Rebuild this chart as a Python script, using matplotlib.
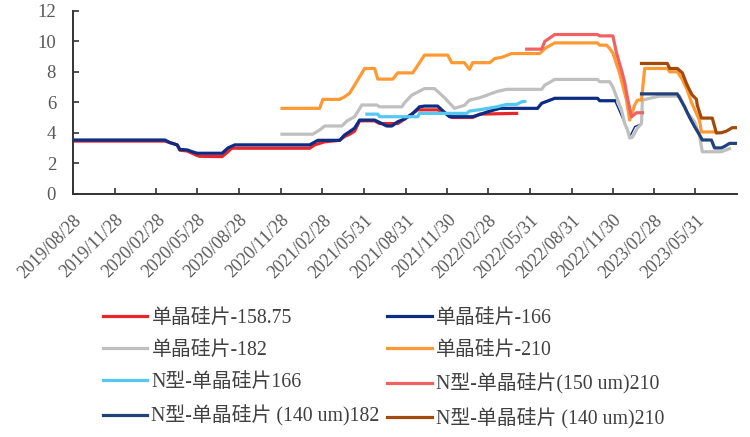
import pandas as pd
import matplotlib
matplotlib.use("Agg")
import matplotlib.pyplot as plt

plt.rcParams['font.family'] = ['Liberation Serif', 'Noto Sans CJK SC', 'DejaVu Sans']

# tick labels on the date axis
tick_labels = ['2019/08/28', '2019/11/28', '2020/02/28', '2020/05/28', '2020/08/28',
               '2020/11/28', '2021/02/28', '2021/05/31', '2021/08/31', '2021/11/30',
               '2022/02/28', '2022/05/31', '2022/08/31', '2022/11/30', '2023/02/28',
               '2023/05/31']

# 单晶硅片-158.75
s15875_dates = ['2019-08-28', '2020-03-18', '2020-03-29', '2020-04-14', '2020-04-20',
                '2020-05-06', '2020-05-17', '2020-05-28', '2020-06-03', '2020-07-22',
                '2020-08-04', '2020-08-12', '2021-01-31', '2021-02-11', '2021-03-05',
                '2021-04-07', '2021-04-18', '2021-04-29', '2021-05-10', '2021-05-21',
                '2021-06-23', '2021-07-04', '2021-08-13', '2021-08-28', '2021-09-26',
                '2021-11-09', '2021-12-01', '2021-12-10', '2022-01-25', '2022-02-10',
                '2022-05-02']
s15875_vals = [3.45, 3.45, 3.35, 3.2, 2.85,
               2.8, 2.65, 2.5, 2.45, 2.43,
               2.75, 2.98, 2.98, 3.2, 3.4,
               3.5, 3.75, 3.9, 4.1, 4.78,
               4.78, 4.6, 4.6, 4.9, 5.5,
               5.5, 5.2, 5.0, 5.0, 5.22,
               5.27]

# 单晶硅片-166
s166_dates = ['2019-08-28', '2020-03-18', '2020-03-29', '2020-04-14', '2020-04-20',
              '2020-05-06', '2020-05-17', '2020-05-28', '2020-07-22', '2020-08-04',
              '2020-08-19', '2021-01-31', '2021-02-18', '2021-04-07', '2021-04-18',
              '2021-04-29', '2021-05-10', '2021-05-21', '2021-06-23', '2021-07-20',
              '2021-07-31', '2021-08-13', '2021-08-28', '2021-09-13', '2021-09-30',
              '2021-10-11', '2021-11-09', '2021-11-18', '2021-12-05', '2022-01-25',
              '2022-02-10', '2022-03-04', '2022-03-26', '2022-06-17', '2022-06-26',
              '2022-07-25', '2022-10-27', '2022-11-01', '2022-12-04', '2022-12-10',
              '2022-12-26', '2023-01-06', '2023-01-17', '2023-02-01']
s166_vals = [3.52, 3.52, 3.35, 3.2, 2.9,
             2.87, 2.75, 2.65, 2.65, 3.0,
             3.2, 3.2, 3.5, 3.5, 3.85,
             4.07, 4.3, 4.83, 4.83, 4.44,
             4.44, 4.72, 4.9, 5.2, 5.7,
             5.75, 5.75, 5.5, 5.05, 5.05,
             5.2, 5.42, 5.6, 5.6, 5.93,
             6.26, 6.26, 6.1, 6.1, 5.7,
             4.6, 3.74, 4.4, 4.6]
# the 166 line turns thin from here on in the source chart
s166_thin_from = '2022-12-04'

# 单晶硅片-182
s182_dates = ['2020-12-01', '2021-02-07', '2021-02-22', '2021-03-05', '2021-04-12',
              '2021-04-23', '2021-05-10', '2021-05-26', '2021-06-28', '2021-07-04',
              '2021-08-22', '2021-08-28', '2021-09-13', '2021-10-11', '2021-11-02',
              '2021-11-24', '2021-12-16', '2022-01-07', '2022-01-18', '2022-02-10',
              '2022-03-19', '2022-04-10', '2022-06-26', '2022-07-03', '2022-07-25',
              '2022-10-27', '2022-11-01', '2022-11-23', '2022-11-30', '2022-12-08',
              '2022-12-19', '2022-12-26', '2023-01-01', '2023-01-06', '2023-01-12',
              '2023-01-23', '2023-02-01', '2023-02-03', '2023-02-25', '2023-03-13',
              '2023-04-26', '2023-05-11', '2023-05-29', '2023-06-09', '2023-06-15',
              '2023-07-27', '2023-08-14']
s182_vals = [3.9, 3.9, 4.18, 4.44, 4.44,
             4.77, 5.05, 5.82, 5.82, 5.7,
             5.7, 5.97, 6.47, 6.9, 6.9,
             6.3, 5.6, 5.8, 6.14, 6.3,
             6.7, 6.85, 6.85, 7.13, 7.5,
             7.5, 7.35, 7.35, 7.0, 6.36,
             5.5, 4.6, 4.2, 3.65, 3.7,
             4.3, 4.6, 6.14, 6.3, 6.4,
             6.4, 5.4, 4.72, 3.8, 2.75,
             2.75, 2.95]

# 单晶硅片-210
s210_dates = ['2020-12-01', '2021-02-22', '2021-03-01', '2021-04-07', '2021-04-18',
              '2021-04-29', '2021-05-10', '2021-06-01', '2021-06-23', '2021-06-30',
              '2021-08-02', '2021-08-13', '2021-09-15', '2021-09-24', '2021-10-11',
              '2021-12-01', '2021-12-10', '2022-01-07', '2022-01-18', '2022-01-25',
              '2022-03-04', '2022-03-15', '2022-03-30', '2022-04-21', '2022-06-22',
              '2022-07-03', '2022-07-25', '2022-10-27', '2022-11-01', '2022-11-16',
              '2022-11-23', '2022-11-30', '2022-12-15', '2022-12-30', '2023-01-06',
              '2023-01-17', '2023-01-23', '2023-02-01', '2023-02-08', '2023-03-30',
              '2023-04-04', '2023-04-21', '2023-05-02', '2023-05-13', '2023-05-22',
              '2023-06-09', '2023-06-13', '2023-07-12']
s210_vals = [5.6, 5.6, 6.19, 6.19, 6.36,
             6.6, 7.13, 8.22, 8.22, 7.52,
             7.52, 7.93, 7.93, 8.33, 9.1,
             9.1, 8.6, 8.6, 8.16, 8.6,
             8.6, 8.88, 8.95, 9.2, 9.2,
             9.53, 9.9, 9.9, 9.75, 9.75,
             9.53, 9.23, 7.9, 6.14, 4.83,
             5.82, 6.14, 6.14, 8.22, 8.22,
             8.0, 8.0, 7.5, 6.8, 6.0,
             4.8, 4.05, 4.05]

# N型-单晶硅片166
n166_dates = ['2021-06-06', '2021-06-30', '2021-07-04', '2021-09-26', '2021-09-30',
              '2022-01-12', '2022-01-18', '2022-02-14', '2022-03-19', '2022-04-10',
              '2022-05-02', '2022-05-13', '2022-05-20']
n166_vals = [5.22, 5.22, 5.05, 5.05, 5.27,
             5.27, 5.42, 5.53, 5.7, 5.86,
             5.86, 6.03, 6.05]

# N型-单晶硅片(150 um)210
n150_210_dates = ['2022-05-24', '2022-06-26', '2022-07-03', '2022-07-25', '2022-10-27',
                  '2022-11-01', '2022-11-30', '2022-12-08', '2022-12-19', '2022-12-26',
                  '2023-01-01', '2023-01-10', '2023-01-21', '2023-02-03']
n150_210_vals = [9.49, 9.49, 10.0, 10.45, 10.45,
                 10.36, 10.36, 9.23, 8.1, 7.3,
                 6.3, 5.05, 5.31, 5.31]

# N型-单晶硅片 (140 um)182
n140_182_dates = ['2023-02-01', '2023-04-21', '2023-05-07', '2023-05-18', '2023-05-29',
                  '2023-06-09', '2023-06-15', '2023-07-05', '2023-07-12', '2023-07-27',
                  '2023-08-03', '2023-08-14', '2023-08-29']
n140_182_vals = [6.55, 6.55, 5.7, 5.0, 4.4,
                 3.85, 3.52, 3.52, 3.0, 3.0,
                 3.1, 3.3, 3.3]

# N型-单晶硅片 (140 um)210
n140_210_dates = ['2023-02-01', '2023-03-30', '2023-04-04', '2023-04-21', '2023-05-02',
                  '2023-05-11', '2023-05-18', '2023-05-24', '2023-06-02', '2023-06-04',
                  '2023-06-13', '2023-07-07', '2023-07-16', '2023-07-27', '2023-08-07',
                  '2023-08-20', '2023-08-29']
n140_210_vals = [8.55, 8.55, 8.22, 8.22, 7.93,
                 7.24, 6.8, 6.47, 6.2, 5.8,
                 4.96, 4.96, 3.98, 4.0, 4.1,
                 4.33, 4.33]

series = [
    ('单晶硅片-158.75', s15875_dates, s15875_vals, '#E8262A'),
    ('单晶硅片-166', s166_dates, s166_vals, '#0C2D83'),
    ('单晶硅片-182', s182_dates, s182_vals, '#BFBFBF'),
    ('单晶硅片-210', s210_dates, s210_vals, '#FF9933'),
    ('N型-单晶硅片166', n166_dates, n166_vals, '#55C8F0'),
    ('N型-单晶硅片(150 um)210', n150_210_dates, n150_210_vals, '#F06262'),
    ('N型-单晶硅片 (140 um)182', n140_182_dates, n140_182_vals, '#22407A'),
    ('N型-单晶硅片 (140 um)210', n140_210_dates, n140_210_vals, '#A24A0C'),
]

fig = plt.figure(figsize=(7.5, 4.37), dpi=100)
ax = fig.add_axes([0.097, 0.557, 0.886, 0.418])

lines = []
for name, d, v, c in series:
    d = list(d)
    v = list(v)
    if name == '单晶硅片-166':
        k = d.index(s166_thin_from)
        ax.plot(pd.to_datetime(d[k:]), v[k:], color=c, lw=1.0)
        d, v = d[:k + 1], v[:k + 1]
    ln, = ax.plot(pd.to_datetime(d), v, color=c, lw=2.3, label=name)
    lines.append(ln)

tick_dates = pd.to_datetime(tick_labels, format='%Y/%m/%d')
ax.set_xticks(tick_dates)
ax.set_xticklabels(tick_labels, rotation=45, ha='right', va='top',
                   rotation_mode='anchor', fontsize=13, color='#595959')
ax.set_xlim(pd.Timestamp('2019-08-28'), pd.Timestamp('2023-08-31'))
ax.set_ylim(0, 12)
ax.set_yticks(range(0, 13, 2))
ax.tick_params(axis='y', labelsize=13.5, labelcolor='#595959', pad=12)
ax.tick_params(direction='in', length=4, width=1.2, color='#333333')
ax.tick_params(axis='x', pad=13)

for side in ['top', 'right']:
    ax.spines[side].set_visible(False)
for side in ['left', 'bottom']:
    ax.spines[side].set_color('#333333')
    ax.spines[side].set_linewidth(1.4)

# legend reads row by row, matplotlib fills columns first
order = [0, 2, 4, 6, 1, 3, 5, 7]
leg = fig.legend([lines[i] for i in order], [series[i][0] for i in order],
                 loc='center', bbox_to_anchor=(0.511, 0.155), ncol=2, frameon=False,
                 fontsize=14.3, handlelength=2.26, handletextpad=0.2,
                 columnspacing=0.35, labelspacing=0.66)
for t in leg.get_texts():
    t.set_color('#404040')

fig.savefig('out.png', dpi=100)
